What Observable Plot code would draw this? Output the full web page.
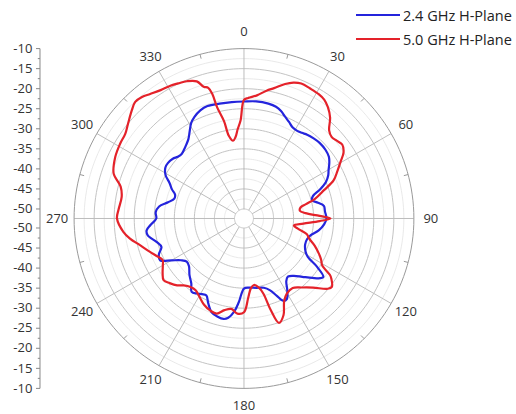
<!DOCTYPE html>
<html>
<head>
<meta charset="utf-8">
<script src="https://cdn.jsdelivr.net/npm/d3@7"></script>
<script src="https://cdn.jsdelivr.net/npm/@observablehq/plot@0.6"></script>
<style>
  html, body { margin: 0; padding: 0; background: #fff; }
  #wrap { position: relative; width: 516px; height: 414px; font-family: "Open Sans", sans-serif; }
  #legend { position: absolute; left: 356px; top: 3px; font-size: 14.5px; color: #222; white-space: nowrap; }
  #legend .row { display: flex; align-items: center; height: 24px; }
  #legend .sw { width: 44px; height: 0; border-top: 2.5px solid; margin-right: 3px; }
</style>
</head>
<body>
<div id="wrap">
  <div id="chart"></div>
  <div id="legend"></div>
</div>
<script>
// ---- data (angle in degrees, clockwise from top; gain in dB) ----
const seriesNames = ["2.4 GHz H-Plane", "5.0 GHz H-Plane"];
const seriesColors = ["#2424dc", "#e4222a"];

const blueAngle = [0, 6, 12, 16, 19, 22, 25, 28, 31, 34, 37, 41, 45, 50, 54, 57, 60, 63, 66, 69, 72, 75, 78, 81, 85, 90, 94, 99, 104, 108, 113, 118, 121, 123.5, 126.3, 128, 131, 135, 139, 143, 146, 149, 152, 154.5, 157, 160, 164, 170, 176, 180, 183.5, 186, 189, 191.5, 195, 199, 203, 206, 209, 212, 215.5, 219, 224, 229, 233, 236.5, 240, 243.5, 247, 251, 255, 260, 263, 266, 270, 274, 278, 282, 286, 289, 292, 295.5, 299, 303, 306, 310, 313, 316, 319, 322, 325, 328, 331, 334, 338, 342, 348, 354];
const blueDb    = [-23.2, -23.0, -23.1, -23.4, -24.0, -25.0, -25.8, -26.6, -26.8, -26.6, -26.2, -25.9, -25.7, -25.8, -26.2, -27.0, -28.0, -28.8, -30.0, -32.0, -34.3, -34.8, -33.5, -32.2, -32.1, -31.8, -32.3, -33.5, -35.2, -35.8, -35.8, -35.0, -33.8, -30.5, -27.8, -28.2, -29.8, -31.8, -33.4, -34.2, -33.5, -31.4, -29.6, -29.6, -31.4, -33.3, -34.4, -34.8, -35.1, -34.9, -31.5, -29.0, -27.3, -26.8, -27.0, -27.6, -29.5, -31.0, -30.8, -30.3, -29.9, -31.5, -32.8, -34.2, -34.5, -33.5, -31.5, -29.0, -29.3, -30.6, -29.8, -28.0, -27.9, -29.0, -30.5, -30.3, -31.0, -33.0, -34.3, -34.2, -33.0, -31.8, -30.0, -29.0, -28.9, -29.2, -29.8, -30.0, -29.6, -29.0, -28.2, -26.8, -25.2, -24.2, -23.3, -22.9, -23.1, -23.2];

const redAngle = [0, 2, 6, 10, 13, 17, 20, 23, 27, 31, 34, 37, 40.5, 44, 47, 50, 53, 56.5, 59.5, 63, 67, 70.5, 74.5, 77, 79, 82, 85, 88, 90, 92, 95, 98, 101, 104, 107, 111, 115, 118, 121, 123.3, 124.6, 127.9, 130, 135, 140, 145, 150.3, 154, 157.8, 161.5, 163.8, 165.5, 168, 171.5, 174.5, 177, 180, 184, 188, 192, 196, 200, 205, 210, 214, 218, 222, 225, 229, 232.5, 236, 240, 243, 247, 250.4, 255.6, 260, 263.7, 270, 274, 280, 284.5, 289, 295.5, 301, 305.5, 309, 314, 317, 320, 323, 327, 331, 334, 337.4, 341, 343, 344.7, 345.7, 346.4, 348.4, 349.6, 352, 354, 356, 358];
const redDb    = [-22.8, -22.3, -21.5, -20.0, -19.0, -17.3, -16.3, -15.8, -16.0, -16.2, -16.6, -17.6, -19.3, -21.8, -22.5, -22.2, -21.7, -22.6, -24.4, -26.2, -28.1, -31.2, -34.0, -36.5, -38.0, -38.3, -37.0, -33.5, -30.8, -33.5, -37.5, -39.8, -38.5, -36.2, -35.4, -33.5, -31.8, -30.6, -29.6, -26.7, -25.9, -24.6, -25.1, -28.0, -29.9, -31.2, -30.8, -29.5, -26.3, -24.9, -28.8, -33.0, -34.8, -35.6, -34.8, -32.5, -29.0, -28.6, -29.6, -29.0, -27.7, -27.9, -28.7, -30.0, -30.8, -30.7, -29.9, -28.8, -27.8, -27.1, -27.9, -29.0, -29.6, -28.6, -27.5, -25.6, -23.5, -22.1, -20.7, -21.0, -21.4, -20.6, -18.0, -16.8, -16.3, -16.0, -15.1, -13.5, -12.6, -12.8, -13.5, -14.2, -14.5, -14.9, -15.3, -16.2, -18.0, -18.6, -20.3, -23.8, -27.6, -31.4, -32.8, -32.0, -30.0, -27.9];

// radial axis ticks (dB) and angular tick labels
const radialMajor = [-50, -45, -40, -35, -30, -25, -20, -15, -10];
const radialMinor = [-47.5, -42.5, -37.5, -32.5, -27.5, -22.5, -17.5, -12.5];
const angleTicks = [0, 30, 60, 90, 120, 150, 180, 210, 240, 270, 300, 330];
const angleMinorTicks = [15, 45, 75, 105, 135, 165, 195, 225, 255, 285, 315, 345];
const leftAxisTicks = [-10, -15, -20, -25, -30, -35, -40, -45, -50];
const leftAxisMinor = [-12.5, -17.5, -22.5, -27.5, -32.5, -37.5, -42.5, -47.5];

// ---- geometry helpers ----
const OFF = 52.37;            // -50 dB sits on a small inner hole
const rMin = -50, rMax = -10;
const rad = a => a * Math.PI / 180;
const px = (a, db) => (db + OFF) * Math.sin(rad(a));
const py = (a, db) => (db + OFF) * Math.cos(rad(a));

const blue = blueAngle.map((a, i) => ({a, db: blueDb[i]}));
const red = redAngle.map((a, i) => ({a, db: redDb[i]}));

const ringPts = lvls => lvls.flatMap(l => d3.range(0, 361, 2).map(a => ({a, db: l, l})));
const majorRings = ringPts(radialMajor.slice(0, -1));
const outerRing = ringPts([rMax]);
const minorRings = ringPts(radialMinor);

const LABEL_R = 46.6 - OFF;   // in dB-equivalent units
const axisX = -50.87;

const chart = Plot.plot({
  width: 516, height: 414,
  marginTop: 0, marginBottom: 0, marginLeft: 0, marginRight: 0,
  x: {domain: [-60.72, 67.96], axis: null},
  y: {domain: [-48.88, 54.36], axis: null},
  style: {fontFamily: "Open Sans, sans-serif", fontSize: "13px", background: "transparent"},
  marks: [
    Plot.line(minorRings, {x: d => px(d.a, d.db), y: d => py(d.a, d.db), z: "l", stroke: "#e3e3e3", strokeWidth: 0.8}),
    Plot.line(majorRings, {x: d => px(d.a, d.db), y: d => py(d.a, d.db), z: "l", stroke: "#c4c4c4", strokeWidth: 1}),
    Plot.link(angleTicks, {x1: a => px(a, rMin), y1: a => py(a, rMin), x2: a => px(a, rMax), y2: a => py(a, rMax), stroke: "#bdbdbd", strokeWidth: 1}),
    Plot.line(outerRing, {x: d => px(d.a, d.db), y: d => py(d.a, d.db), z: "l", stroke: "#9a9a9a", strokeWidth: 1}),
    Plot.link(angleMinorTicks, {x1: a => px(a, rMax), y1: a => py(a, rMax), x2: a => px(a, rMax - 1.1), y2: a => py(a, rMax - 1.1), stroke: "#9a9a9a", strokeWidth: 1}),
    Plot.line(blue, {x: d => px(d.a, d.db), y: d => py(d.a, d.db), curve: "catmull-rom-closed", stroke: seriesColors[0], strokeWidth: 2.2}),
    Plot.line(red, {x: d => px(d.a, d.db), y: d => py(d.a, d.db), curve: "catmull-rom-closed", stroke: seriesColors[1], strokeWidth: 2.2}),
    Plot.text(angleTicks, {x: a => px(a, LABEL_R), y: a => py(a, LABEL_R), text: a => String(a), fill: "#333", fontSize: 13}),
    // left vertical axis
    Plot.link([0], {x1: axisX, x2: axisX, y1: py(0, rMax), y2: py(180, rMax), stroke: "#888", strokeWidth: 1}),
    Plot.link(leftAxisTicks.flatMap(v => [{v, s: 1}, {v, s: -1}]), {x1: axisX - 1, x2: axisX, y1: d => d.s * (d.v + OFF), y2: d => d.s * (d.v + OFF), stroke: "#888"}),
    Plot.link(leftAxisMinor.flatMap(v => [{v, s: 1}, {v, s: -1}]), {x1: axisX - 0.55, x2: axisX, y1: d => d.s * (d.v + OFF), y2: d => d.s * (d.v + OFF), stroke: "#888"}),
    Plot.text(leftAxisTicks.flatMap(v => [{v, s: 1}, {v, s: -1}]), {x: axisX - 1.9, y: d => d.s * (d.v + OFF), text: d => String(d.v), textAnchor: "end", fill: "#333", fontSize: 13})
  ]
});
document.getElementById("chart").appendChild(chart);

const legend = document.getElementById("legend");
seriesNames.forEach((n, i) => {
  const row = document.createElement("div");
  row.className = "row";
  row.innerHTML = `<span class="sw" style="border-color:${seriesColors[i]}"></span><span>${n}</span>`;
  legend.appendChild(row);
});
</script>
</body>
</html>
